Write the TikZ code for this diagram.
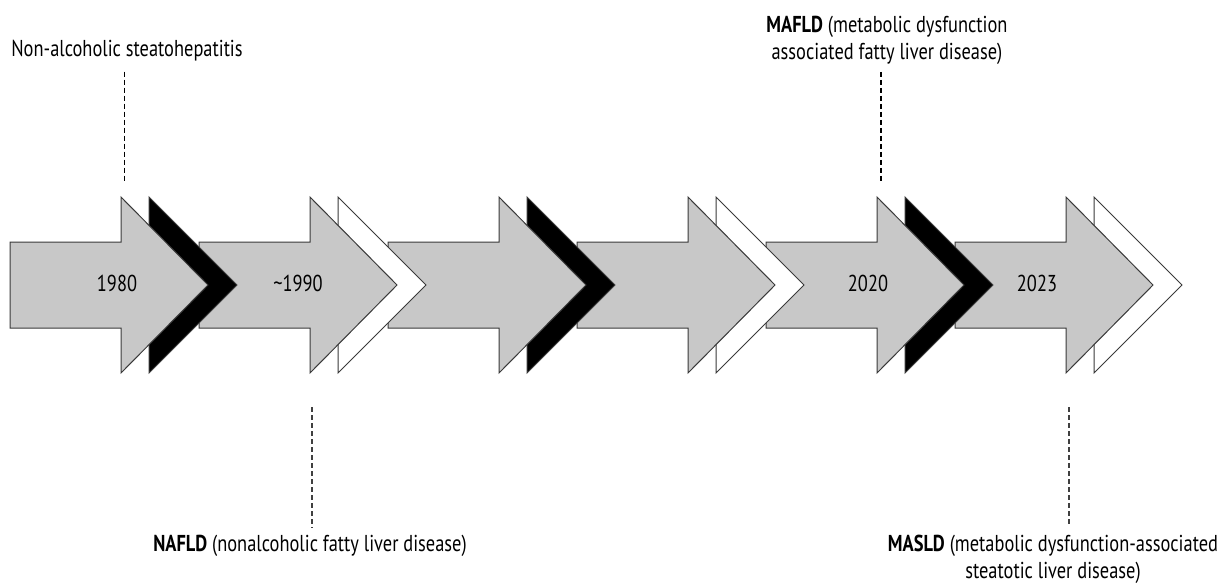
\documentclass[tikz,border=0pt]{standalone}
\usepackage{fontspec}
\setmainfont[FakeStretch=0.80]{PT Sans}
\definecolor{arrowgray}{HTML}{C8C8C8}
\definecolor{edgegray}{HTML}{3A3A3A}
\tikzset{
  arrowbody/.style={fill=arrowgray, draw=edgegray, line width=0.5pt, line join=miter},
  chevblack/.style={fill=black, draw=edgegray, line width=0.5pt},
  chevwhite/.style={fill=white, draw=edgegray, line width=0.5pt},
  dashline/.style={draw=black, line width=0.65pt, dash pattern=on 2.6pt off 1.4pt},
  label/.style={inner sep=0pt, align=center, font=\fontsize{11.5}{13.5}\selectfont},
  year/.style={inner sep=0pt, font=\fontsize{11.5}{13.5}\selectfont},
  tlarrow/.pic={\path[arrowbody] (0,242) -- (111,242) -- (111,197) -- (198,285) -- (111,373) -- (111,328) -- (0,328) -- cycle;},
}
\begin{document}
\begin{tikzpicture}[x=0.5pt,y=-0.5pt]
\useasboundingbox (0,0) rectangle (1223,585);
% chevrons and arrows, drawn from right to left
\foreach \L/\cs in {955/chevwhite,766/chevblack,577/chevwhite,388/chevblack,199/chevwhite,10/chevblack}{
  \path[\cs] ({\L+139},197) -- ({\L+227},285) -- ({\L+139},373) -- cycle;
  \pic at (\L,0) {tlarrow};
}
% years
\node[year, anchor=base] (y1) at (117,291) {1980};
\node[year, anchor=base] (y2) at (298,291) {\textasciitilde1990};
\node[year, anchor=base] (y5) at (868,291) {2020};
\node[year, anchor=base] (y6) at (1037,291) {2023};
% labels
\node[label, anchor=base] (nash) at (127,56) {Non-alcoholic steatohepatitis};
\node[label, anchor=base] (mafld) at (887,59) {\textbf{MAFLD} (metabolic dysfunction\\associated fatty liver disease)};
\node[label, anchor=base] (nafld) at (310,551) {\textbf{NAFLD} (nonalcoholic fatty liver disease)};
\node[label, anchor=base] (masld) at (1053,578) {\textbf{MASLD} (metabolic dysfunction-associated\\steatotic liver disease)};
% connector ends
\coordinate (e1) at (124.5,183);
\coordinate (e2) at (881,183);
\coordinate (e3) at (312,407);
\coordinate (e4) at (1069,407);
\draw[dashline] (e1 |- nash.south) ++(0,10.5) -- (e1);
\draw[dashline] (e2 |- mafld.south) ++(0,7.5) -- (e2);
\draw[dashline, draw=black!75] (e3) -- ([yshift=3pt]e3 |- nafld.north);
\draw[dashline, draw=black!75] (e4) -- ([yshift=4.5pt]e4 |- masld.north);
\end{tikzpicture}
\end{document}
